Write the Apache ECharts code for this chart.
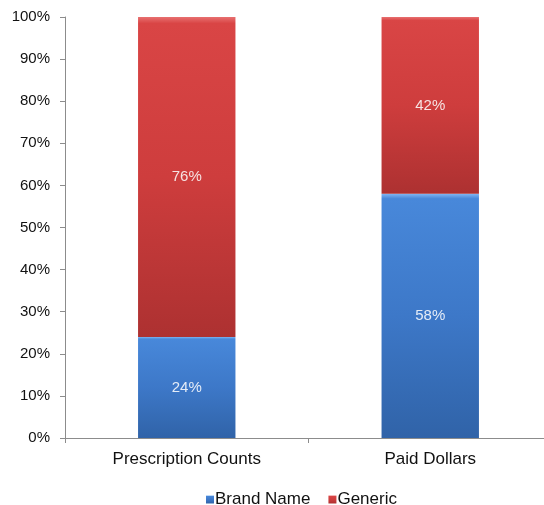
<!DOCTYPE html>
<html>
<head>
<meta charset="utf-8">
<script src="https://cdn.jsdelivr.net/npm/echarts@6/dist/echarts.min.js"></script>
<style>
html,body{margin:0;padding:0;background:#fff;}
#chart{width:544px;height:505px;}
</style>
</head>
<body>
<div id="chart"></div>
<script>
// Share of prescriptions: brand name vs generic
const categories = ['Prescription Counts', 'Paid Dollars'];
const brandName = [24, 58];
const generic = [76, 42];
const yTicks = [0, 10, 20, 30, 40, 50, 60, 70, 80, 90, 100];

const FONT = '"Liberation Sans", Arial, sans-serif';

// Vertical shading with a light bevel band along the top edge
function barFill(hi, top, mid, bottom) {
  return new echarts.graphic.LinearGradient(0, 0, 0, 1, [
    { offset: 0, color: hi },
    { offset: 0.02, color: top },
    { offset: 0.5, color: mid },
    { offset: 1, color: bottom }
  ]);
}

const chart = echarts.init(document.getElementById('chart'), null, { renderer: 'canvas' });

chart.setOption({
  animation: false,
  backgroundColor: '#ffffff',
  grid: { left: 65, top: 17, width: 487, height: 421, outerBoundsMode: 'none', containLabel: false },
  legend: {
    top: 486,
    left: 201,
    itemWidth: 8,
    itemHeight: 8,
    itemGap: 18,
    icon: 'rect',
    textStyle: { fontFamily: FONT, fontSize: 17, color: '#111', padding: [0, 0, 0, -4] },
    data: ['Brand Name', 'Generic']
  },
  xAxis: {
    type: 'category',
    data: categories,
    axisLine: { lineStyle: { color: '#8c8c8c', width: 1 } },
    axisTick: { show: true, alignWithLabel: false, length: 5, lineStyle: { color: '#8c8c8c' } },
    axisLabel: { fontFamily: FONT, fontSize: 17, color: '#111', margin: 13 },
    splitLine: { show: false }
  },
  yAxis: {
    type: 'value',
    min: yTicks[0],
    max: yTicks[yTicks.length - 1],
    interval: 10,
    axisLine: { show: true, lineStyle: { color: '#8c8c8c', width: 1 } },
    axisTick: { show: true, inside: false, length: 5, lineStyle: { color: '#8c8c8c' } },
    axisLabel: {
      fontFamily: FONT, fontSize: 15, color: '#111', margin: 15,
      formatter: v => v + '%'
    },
    splitLine: { show: false }
  },
  series: [
    {
      name: 'Brand Name',
      type: 'bar',
      stack: 'share',
      data: brandName,
      barCategoryGap: '60%',
      itemStyle: { color: barFill('#80b6f2', '#4888da', '#3d78c8', '#3063a8') },
      label: {
        show: true, position: 'inside', formatter: '{c}%',
        fontFamily: FONT, fontSize: 15, color: '#e4ecf7'
      }
    },
    {
      name: 'Generic',
      type: 'bar',
      stack: 'share',
      data: generic,
      itemStyle: { color: barFill('#e87070', '#d94545', '#ce3d3d', '#ad3131') },
      label: {
        show: true, position: 'inside', formatter: '{c}%',
        fontFamily: FONT, fontSize: 15, color: '#f6e2e2'
      }
    }
  ]
});
</script>
</body>
</html>
